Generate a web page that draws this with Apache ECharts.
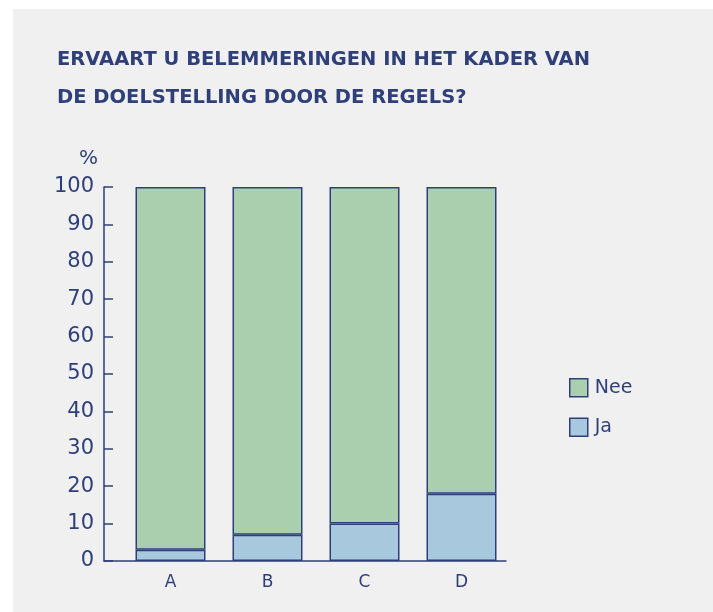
<!DOCTYPE html>
<html>
<head>
<meta charset="utf-8">
<script src="https://cdn.jsdelivr.net/npm/echarts@6/dist/echarts.min.js"></script>
<style>
html, body { margin: 0; padding: 0; background: #ffffff; }
.panel { position: absolute; left: 13px; top: 9px; width: 700px; height: 603px; background: #f0f0f0; }
#chart { position: absolute; left: 0; top: 0; width: 713px; height: 612px; }
</style>
</head>
<body>
<div class="panel"></div>
<div id="chart"></div>
<script>
var categories = ['A', 'B', 'C', 'D'];
var ja = [3, 7, 10, 18];
var nee = [97, 93, 90, 82];
var yTicks = [0, 10, 20, 30, 40, 50, 60, 70, 80, 90, 100];

var navy = '#2f3f7a';
var font = 'DejaVu Sans';

var myChart = echarts.init(document.getElementById('chart'));
myChart.setOption({
  backgroundColor: 'transparent',
  textStyle: { fontFamily: font },
  title: {
    text: 'ERVAART U BELEMMERINGEN IN HET KADER VAN\nDE DOELSTELLING DOOR DE REGELS?',
    left: 57, top: 41, padding: 0,
    textStyle: { color: navy, fontSize: 19.5, fontWeight: 'bold', lineHeight: 38, fontFamily: font }
  },
  legend: {
    data: ['Nee', 'Ja'],
    orient: 'vertical',
    left: 569, top: 378, padding: 0,
    icon: 'rect',
    itemWidth: 18, itemHeight: 18, itemGap: 20,
    itemStyle: { borderColor: navy, borderWidth: 1.5 },
    textStyle: { color: navy, fontSize: 19, fontFamily: font, padding: [0, 0, 0, 2] }
  },
  grid: [
    // axis frame
    { left: 104, right: 207, top: 187, bottom: 51, containLabel: false },
    // bars
    { left: 122, right: 203, top: 187, bottom: 51, containLabel: false }
  ],
  xAxis: [
    {
      gridIndex: 0, type: 'value', min: 0, max: 1,
      axisLine: { show: true, lineStyle: { color: navy, width: 1.5 } },
      axisTick: { show: false }, axisLabel: { show: false }, splitLine: { show: false }
    },
    {
      gridIndex: 1, type: 'category', data: categories,
      axisLine: { show: false },
      axisTick: { show: false },
      axisLabel: { color: navy, fontSize: 17, margin: 13 }
    }
  ],
  yAxis: [
    {
      gridIndex: 0, type: 'value',
      min: 0, max: 100, interval: 10,
      name: '%',
      nameGap: 18,
      nameTextStyle: { color: navy, fontSize: 20, align: 'right', padding: [0, 6, 0, 0] },
      axisLine: { show: true, lineStyle: { color: navy, width: 1.5 } },
      axisTick: { show: true, inside: true, length: 9, lineStyle: { color: navy, width: 1.5 } },
      splitLine: { show: false },
      axisLabel: {
        color: navy, fontSize: 21, margin: 10,
        formatter: function (v) { return yTicks.indexOf(v) >= 0 ? String(v) : ''; }
      }
    },
    {
      gridIndex: 1, type: 'value', min: 0, max: 100, show: false
    }
  ],
  series: [
    {
      name: 'Ja', type: 'bar', stack: 'total', data: ja, barWidth: 70,
      xAxisIndex: 1, yAxisIndex: 1,
      itemStyle: { color: '#a8c8de', borderColor: navy, borderWidth: 1.5 }
    },
    {
      name: 'Nee', type: 'bar', stack: 'total', data: nee, barWidth: 70,
      xAxisIndex: 1, yAxisIndex: 1,
      itemStyle: { color: '#a9cfae', borderColor: navy, borderWidth: 1.5 }
    }
  ]
});
</script>
</body>
</html>
